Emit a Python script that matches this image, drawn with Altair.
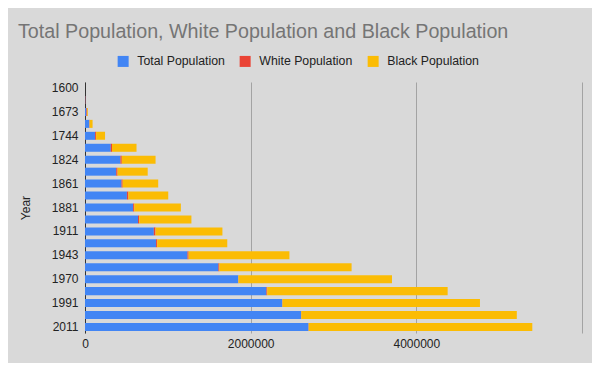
import altair as alt
import pandas as pd

years = ["1600", "1662", "1673", "1703", "1744", "1800", "1824", "1844", "1861", "1871",
         "1881", "1891", "1911", "1921", "1943", "1960", "1970", "1982", "1991", "2001", "2011"]
shown_years = ["1600", "1673", "1744", "1824", "1861", "1881", "1911", "1943", "1970", "1991", "2011"]
total_pop = [0, 4200, 17300, 52000, 122000, 311000, 428000, 377000, 441000, 506000,
             581000, 640000, 831000, 858000, 1237000, 1610000, 1849000, 2190000, 2381000, 2608000, 2698000]
white_pop = [0, 3650, 7800, 3500, 12000, 15000, 16000, 16000, 13800, 18000,
             14400, 14700, 20000, 14500, 13800, 12400, 3000, 10000, 3000, 3000, 3000]
black_pop = [0, 550, 9500, 36000, 108000, 296000, 408000, 364000, 429000, 481000,
             562000, 630000, 808000, 845000, 1217000, 1596000, 1854000, 2178000, 2384000, 2602000, 2699000]
series = ["Total Population", "White Population", "Black Population"]
colors = ["#4285F4", "#EA4335", "#FBBC04"]

rows = []
for i, y in enumerate(years):
    for k, (name, vals) in enumerate(zip(series, [total_pop, white_pop, black_pop])):
        rows.append({"Year": y, "series": name, "value": vals[i], "ord": k})
df = pd.DataFrame(rows)

FONT = "Liberation Sans"

chart = alt.Chart(df).mark_bar().encode(
    y=alt.Y("Year:N", sort=years,
            scale=alt.Scale(paddingInner=0.33, paddingOuter=0.17),
            axis=alt.Axis(values=shown_years, title="Year", ticks=False,
                          domainColor="#333333", domainWidth=1,
                          labelFontSize=12, labelColor="#222222", labelPadding=7,
                          titleFontSize=12, titleFontWeight="normal", titleColor="#222222",
                          titlePadding=19, labelFont=FONT, titleFont=FONT)),
    x=alt.X("value:Q", stack="zero",
            scale=alt.Scale(domain=[0, 6000000], nice=False),
            axis=alt.Axis(values=[0, 2000000, 4000000, 6000000], format="d",
                          labelExpr="datum.value >= 6000000 ? '' : datum.label",
                          labelFlush=False,
                          grid=True, gridColor="#a3a3a3", domain=False, ticks=False,
                          labelFontSize=12, labelColor="#222222", labelPadding=5,
                          labelFont=FONT, title=None)),
    color=alt.Color("series:N",
                    scale=alt.Scale(domain=series, range=colors),
                    legend=alt.Legend(orient="none", legendX=32, legendY=-27,
                                      direction="horizontal", title=None,
                                      symbolType="square", symbolSize=121,
                                      symbolStrokeWidth=0, symbolOpacity=1,
                                      labelFontSize=12.3, labelColor="#222222",
                                      labelFont=FONT, labelOffset=8,
                                      columnPadding=14)),
    order=alt.Order("ord:Q", sort="ascending"),
).properties(
    width=497,
    height=251,
    title=alt.TitleParams("Total Population, White Population and Black Population",
                          anchor="start", frame="group", dx=-67, offset=13,
                          fontSize=19.7, fontWeight="normal", color="#757575", font=FONT),
    autosize=alt.AutoSizeParams(type="none"),
    padding={"left": 77, "top": 74, "right": 10, "bottom": 30},
    background="#d9d9d9",
).configure_view(stroke=None)

chart.save("out.html", embed_options={"renderer": "svg", "actions": False})
